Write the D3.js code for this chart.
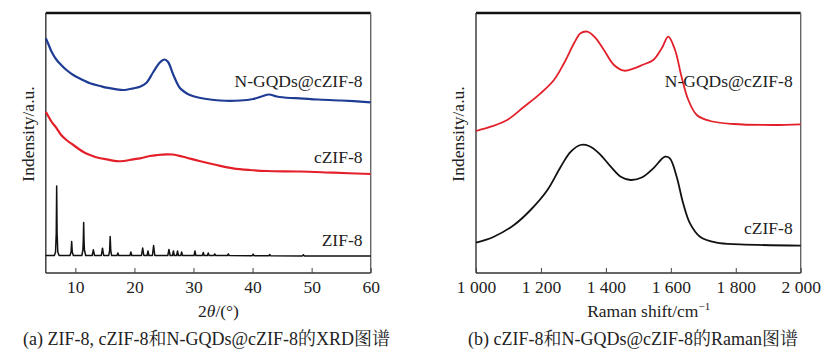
<!DOCTYPE html>
<html><head><meta charset="utf-8">
<script src="https://cdn.jsdelivr.net/npm/d3@7/dist/d3.min.js"></script>
<style>
html,body{margin:0;padding:0;background:#fff;}
</style></head>
<body><svg id="c" width="831" height="354"></svg>
<script>
// ---------- data ----------
const xrdTicks = [10, 20, 30, 40, 50, 60];
const ramanTicks = [1000, 1200, 1400, 1600, 1800, 2000];
const xrdLabels = ["N-GQDs@cZIF-8", "cZIF-8", "ZIF-8"];
const ramanLabels = ["N-GQDs@cZIF-8", "cZIF-8"];
const xrdNGQDs = [[5.0,234.7],[5.5,228],[6.0,221],[6.84,213],[7.6,208],[8.5,203],[9.65,198],[11.3,193],[12.48,189.7],[14.2,187],[15.31,185.3],[17.0,183.7],[18.12,183],[19.8,184.7],[20.94,186.3],[22.0,190],[23.2,201],[24.3,210.5],[25.1,213.5],[25.7,211],[26.6,198],[27.7,185],[28.5,181],[29.4,178],[30.8,175.5],[32.2,174],[34.5,172.5],[37.9,172.5],[40.1,174],[41.5,176.5],[42.8,178.5],[44.1,176.5],[46.4,175],[48,174.7],[51,173.5],[55,172.5],[60,170.7]];
const xrdCZIF = [[5.0,161.3],[5.5,156],[6.0,151],[6.84,144.7],[7.6,138],[8.5,133],[9.65,128],[11.3,121.3],[12.48,118],[14.2,114.7],[15.31,113.7],[17.0,111.8],[18.12,112],[19.8,113.7],[20.94,114.7],[22.6,117],[23.9,118],[25.4,118.7],[26.5,118.5],[28.2,116.3],[31.0,112],[33.9,108],[36.7,104.7],[39.5,103],[42.4,102],[48.0,101.5],[53.7,100.3],[60,99]];
const xrdZIF8 = [[5,17.5],
 [6.45,17.5],[6.65,21],[6.77,40],[6.84,87],[6.91,40],[7.03,21],[7.25,17.5],
 [9.1,17.5],[9.28,21],[9.38,31.5],[9.48,21],[9.66,17.5],
 [11.1,17.5],[11.28,23],[11.35,33],[11.41,50.5],[11.47,33],[11.54,23],[11.75,17.5],
 [12.85,17.5],[13.05,23.2],[13.25,17.5],
 [14.4,17.5],[14.6,24.8],[14.8,17.5],
 [15.65,17.5],[15.8,22],[15.9,36.5],[16.0,22],[16.15,17.5],
 [17.05,17.5],[17.2,20],[17.35,17.5],
 [19.25,17.5],[19.4,21],[19.55,17.5],
 [21.2,17.5],[21.4,25],[21.6,17.5],
 [22.15,17.5],[22.3,22],[22.45,17.5],
 [23.05,17.5],[23.25,27.5],[23.45,17.5],
 [25.65,17.5],[25.85,23.5],[26.05,17.5],
 [26.45,17.5],[26.6,22],[26.75,17.5],
 [27.15,17.5],[27.3,22],[27.45,17.5],
 [27.85,17.5],[28.0,21],[28.15,17.5],
 [30.1,17.5],[30.25,22],[30.4,17.5],
 [31.5,17.5],[31.66,20.5],[31.8,17.5],
 [32.35,17.5],[32.5,20],[32.65,17.5],
 [33.45,17.5],[33.6,19],[33.75,17.5],
 [35.75,17.5],[35.9,19],[36.05,17.5],
 [39.95,17.3],[40.1,18.8],[40.25,17.3],
 [42.75,17.2],[42.9,18.5],[43.05,17.2],
 [48.45,17.1],[48.6,18.3],[48.75,17.1],
 [60,17]];
const ramanNGQDs = [[1000,142],[1045,146.3],[1096,153],[1148,166.3],[1199,179.7],[1240,193],[1271,209.7],[1302,229.7],[1322,239.7],[1343,241.3],[1369,234.7],[1394,223],[1425,208],[1456,202.3],[1487,204.7],[1512,208],[1546,213],[1572,224.7],[1592,236.3],[1613,223],[1633,196.3],[1654,173],[1680,158],[1721,152],[1792,149],[1916,148],[2000,148.7]];
const ramanCZIF = [[1000,30.3],[1055,36.3],[1117,48],[1168,63],[1220,83],[1261,106.3],[1292,121.3],[1322,128],[1348,127],[1379,119.7],[1415,106.3],[1446,96.3],[1476,93],[1512,95.7],[1546,104.7],[1582,116.3],[1597,114.7],[1618,96.3],[1638,69.7],[1659,49.7],[1690,36.3],[1741,30.3],[1813,28.7],[2000,27.3]];

// ---------- drawing ----------
const FONT = '"Liberation Serif", "Noto Serif CJK SC", serif';
const svg = d3.select("#c");
const yTop = 13, yBot = 273;
const y = d3.scaleLinear().domain([0, 260]).range([yBot, yTop]);
const xL = d3.scaleLinear().domain([5, 60]).range([45.8, 370.7]);
const xR = d3.scaleLinear().domain([1000, 2000]).range([476, 800.7]);
const loc = d3.formatLocale({decimal: ".", thousands: " ", grouping: [3], currency: ["", ""]});
const smooth = d3.curveCatmullRom.alpha(0.5);

function txt(sel) { return sel.style("font-family", FONT).style("fill", "#222"); }

function frame(x) {
  const [x0, x1] = x.range();
  const g = svg.append("g");
  g.append("line").attr("x1", x0).attr("x2", x1).attr("y1", yTop).attr("y2", yTop).attr("stroke", "#111").attr("stroke-width", 2.6);
  g.append("line").attr("x1", x0).attr("x2", x0).attr("y1", yTop).attr("y2", yBot).attr("stroke", "#333").attr("stroke-width", 1.4);
  g.append("line").attr("x1", x1).attr("x2", x1).attr("y1", yTop).attr("y2", yBot).attr("stroke", "#666").attr("stroke-width", 1.4);
  g.append("line").attr("x1", x0).attr("x2", x1).attr("y1", yBot).attr("y2", yBot).attr("stroke", "#333").attr("stroke-width", 1.4);
}

function axis(x, ticks, fmt) {
  const g = svg.append("g").attr("transform", `translate(0,${yBot})`)
    .call(d3.axisBottom(x).tickValues(ticks).tickSize(-5).tickPadding(7.2).tickFormat(fmt));
  g.select(".domain").remove();
  g.selectAll(".tick line").attr("stroke", "#444").attr("stroke-width", 1);
  txt(g.selectAll(".tick text")).style("font-size", "17.5px");
}

function curve(x, data, color, w, c) {
  svg.append("path").datum(data)
    .attr("fill", "none").attr("stroke", color).attr("stroke-width", w).attr("stroke-linejoin", "round")
    .attr("d", d3.line().x(d => x(d[0])).y(d => y(d[1])).curve(c));
}

function label(xp, yp, s) {
  txt(svg.append("text")).attr("x", xp).attr("y", yp).attr("text-anchor", "end").style("font-size", "17.5px").text(s);
}

function ytitle(xp) {
  txt(svg.append("text")).attr("transform", `translate(${xp},134) rotate(-90)`).attr("text-anchor", "middle")
    .attr("dy", "0.35em").style("font-size", "17.5px").text("Indensity/a.u.");
}

// left panel
frame(xL);
axis(xL, xrdTicks, d3.format("d"));
curve(xL, xrdNGQDs, "#1f3c94", 2.2, smooth);
curve(xL, xrdCZIF, "#e3202a", 2.2, smooth);
curve(xL, xrdZIF8, "#111", 1.5, d3.curveLinear);
label(362.5, 86.5, xrdLabels[0]);
label(362.5, 162.5, xrdLabels[1]);
label(362.5, 245.5, xrdLabels[2]);
ytitle(28);
const t1 = txt(svg.append("text")).attr("x", 218.5).attr("y", 317).attr("text-anchor", "middle").style("font-size", "17.5px");
t1.append("tspan").text("2");
t1.append("tspan").style("font-style", "italic").text("θ");
t1.append("tspan").text("/(°)");
txt(svg.append("text")).attr("x", 206.5).attr("y", 344.5).attr("text-anchor", "middle").style("font-size", "18px")
  .text("(a) ZIF-8, cZIF-8和N-GQDs@cZIF-8的XRD图谱");

// right panel
frame(xR);
axis(xR, ramanTicks, loc.format(","));
curve(xR, ramanNGQDs, "#e3202a", 1.8, smooth);
curve(xR, ramanCZIF, "#111", 1.8, smooth);
label(792.7, 86.5, ramanLabels[0]);
label(792.7, 233.5, ramanLabels[1]);
ytitle(458);
const t2 = txt(svg.append("text")).attr("x", 648.7).attr("y", 317).attr("text-anchor", "middle").style("font-size", "17.5px");
t2.append("tspan").text("Raman shift/cm");
t2.append("tspan").style("font-size", "11px").attr("dy", -7).text("−1");
txt(svg.append("text")).attr("x", 633).attr("y", 344.5).attr("text-anchor", "middle").style("font-size", "18px")
  .text("(b) cZIF-8和N-GQDs@cZIF-8的Raman图谱");
</script></body></html>
